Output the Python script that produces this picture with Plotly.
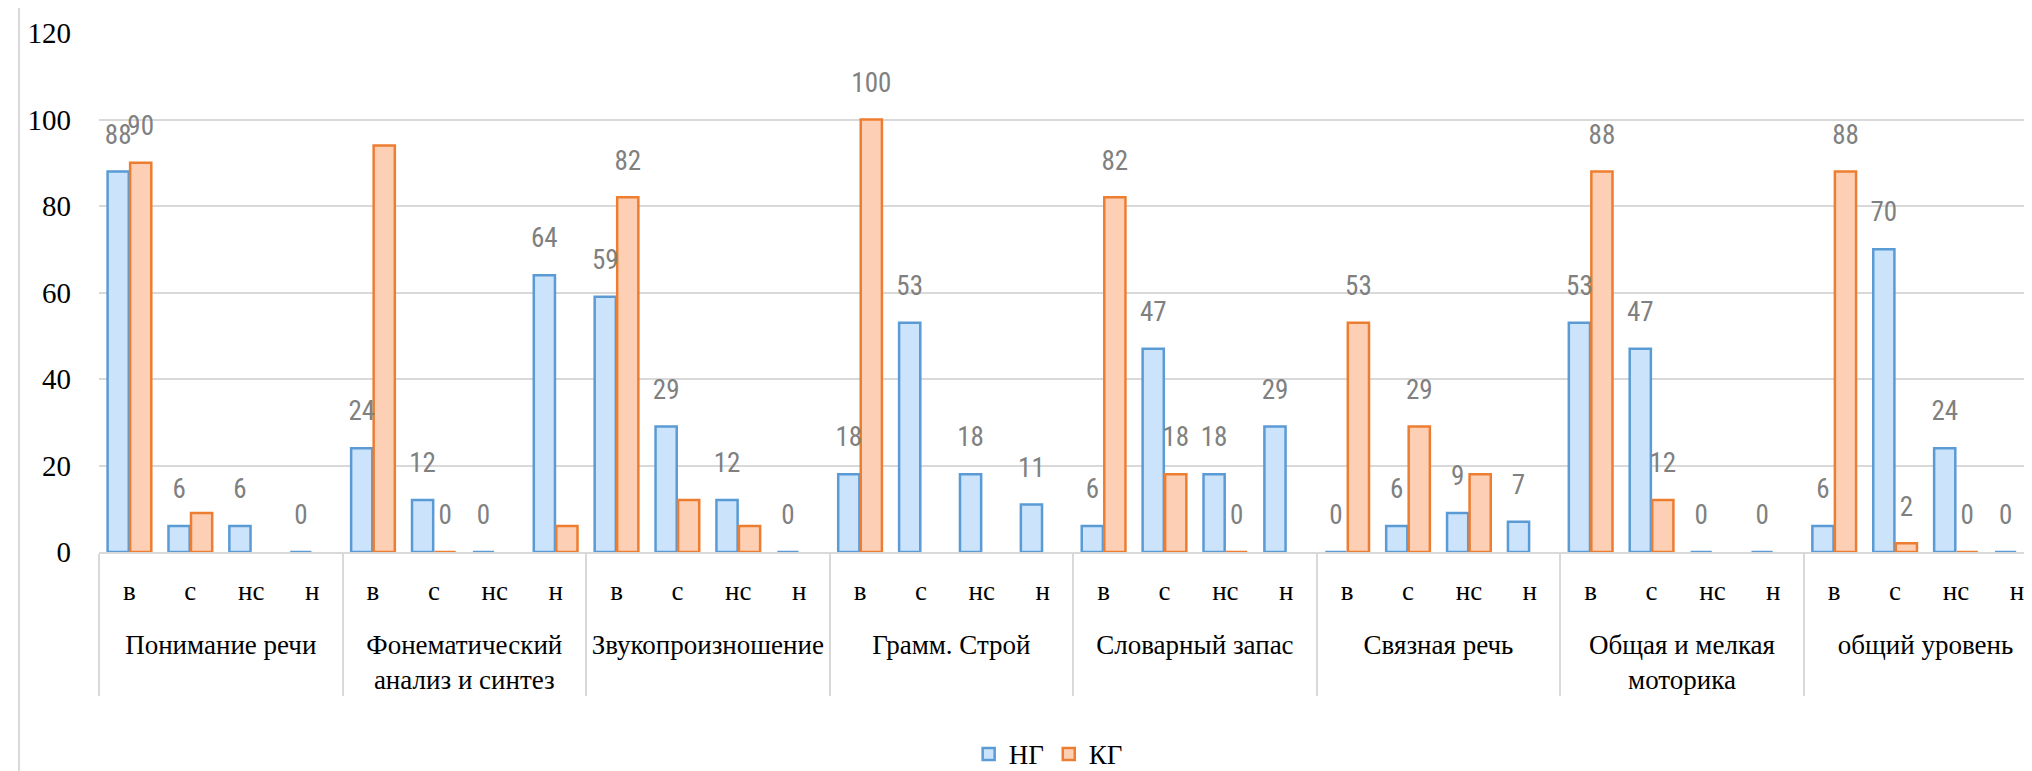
import plotly.graph_objects as go

# ---- data ----
groups = ["Понимание речи", "Фонематический<br>анализ и синтез", "Звукопроизношение",
          "Грамм. Строй", "Словарный запас", "Связная речь",
          "Общая и мелкая<br>моторика", "общий уровень"]
levels = ["в", "с", "нс", "н"]

ng_values = [88, 6, 6, 0,
             24, 12, 0, 64,
             59, 29, 12, 0,
             18, 53, 18, 11,
             6, 47, 18, 29,
             0, 6, 9, 7,
             53, 47, 0, 0,
             6, 70, 24, 0]
kg_values = [90, 9, None, None,
             94, 0, None, 6,
             82, 12, 6, None,
             100, None, None, None,
             82, 18, 0, None,
             53, 29, 18, None,
             88, 12, None, None,
             88, 2, 0, None]
ng_labels = [str(v) for v in ng_values]
kg_labels = ["90", "", "", "",
             "", "0", "", "",
             "82", "", "", "",
             "100", "", "", "",
             "82", "18", "0", "",
             "53", "29", "", "",
             "88", "12", "", "",
             "88", "2", "0", ""]

# ---- styles ----
SERIF = "Liberation Serif, Times New Roman, serif"
LABEL_FONT = "Liberation Sans Narrow, Roboto Condensed, Roboto, sans-serif"
GRID = "#d9d9d9"
BARGAP = 0.26
LABEL_OFFSET = 8          # in data units above the bar top
XRANGE = [-0.5, 31.38]

# outer labels get a leading blank line to open the gap below the inner labels
x_outer = ["<br>" + g for g in groups for _ in levels]
x_inner = [l for _ in groups for l in levels]
idx = list(range(len(x_outer)))
half = (1 - BARGAP) / 4

fig = go.Figure()
fig.add_trace(go.Bar(name="НГ", x=[x_outer, x_inner], y=ng_values,
                     marker=dict(color="#cbe3fb", line=dict(color="#5b9bd5", width=2.5))))
fig.add_trace(go.Bar(name="КГ", x=[x_outer, x_inner], y=kg_values,
                     marker=dict(color="#fdd0b6", line=dict(color="#ed7d31", width=2.5))))

# data labels
lx, ly, lt = [], [], []
for i, v, t in zip(idx, ng_values, ng_labels):
    if t != "":
        lx.append(i - half); ly.append(v + LABEL_OFFSET); lt.append(t)
for i, v, t in zip(idx, kg_values, kg_labels):
    if t != "":
        lx.append(i + half); ly.append((v or 0) + LABEL_OFFSET); lt.append(t)
fig.add_trace(go.Scatter(x=lx, y=ly, text=lt, mode="text", xaxis="x2",
                         textposition="middle center", showlegend=False, hoverinfo="skip",
                         textfont=dict(family=LABEL_FONT, size=27, color="#808080")))

fig.update_layout(
    width=2032, height=771,
    margin=dict(l=91, r=0, t=25, b=221),
    paper_bgcolor="white", plot_bgcolor="white",
    barmode="group", bargap=BARGAP, bargroupgap=0.06,
    xaxis=dict(type="multicategory", range=XRANGE, showgrid=False,
               showline=True, linecolor=GRID, linewidth=2, ticks="",
               showdividers=True, dividercolor=GRID, dividerwidth=2,
               ticklabelstandoff=14,
               tickfont=dict(family=SERIF, size=27, color="black")),
    xaxis2=dict(overlaying="x", range=XRANGE, visible=False),
    yaxis=dict(range=[0, 120], dtick=20, showgrid=True, gridcolor=GRID, gridwidth=2,
               zeroline=False, showline=False, ticklabelstandoff=27,
               tickfont=dict(family=SERIF, size=29, color="black")),
    legend=dict(orientation="h", x=0.489, xanchor="center", y=-0.39, yanchor="middle",
                font=dict(family=SERIF, size=27, color="black"), itemwidth=30),
    shapes=[dict(type="line", xref="paper", yref="paper", xsizemode="pixel", xanchor=0,
                 x0=-80, x1=-80, y0=-0.43, y1=1.06, line=dict(color=GRID, width=2))],
)

fig.write_html("out.html")
